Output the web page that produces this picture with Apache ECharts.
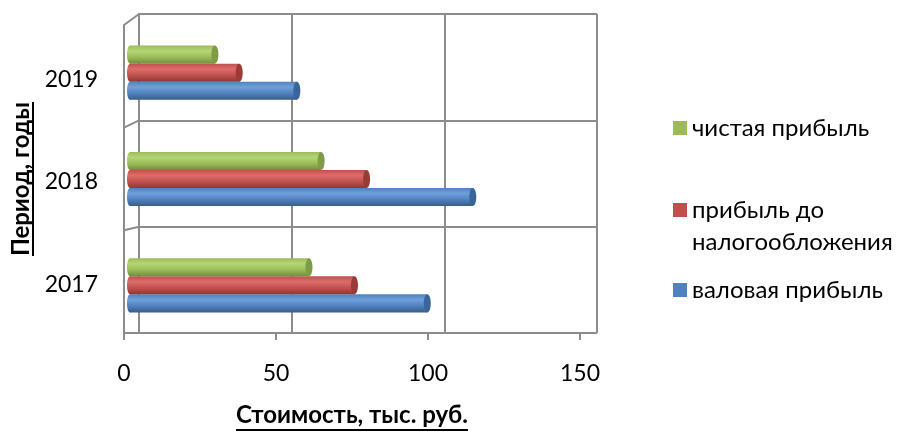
<!DOCTYPE html>
<html>
<head>
<meta charset="utf-8">
<script src="https://cdn.jsdelivr.net/npm/echarts@6/dist/echarts.min.js"></script>
<style>
html,body{margin:0;padding:0;background:#fff;}
#chart{width:898px;height:432px;}
</style>
</head>
<body>
<div id="chart"></div>
<script>
// ---- data ----
const categories = ['2017', '2018', '2019'];
const grossProfit = [98, 113, 55];      // валовая прибыль
const preTaxProfit = [74, 78, 36];      // прибыль до налогообложения
const netProfit = [59, 63, 28];         // чистая прибыль
const xTicks = [0, 50, 100, 150];
const seriesNames = ['валовая прибыль', 'прибыль до налогообложения', 'чистая прибыль'];
const xTitle = 'Стоимость, тыс. руб.';
const yTitle = 'Период, годы';

// ---- styles ----
const FONT = 'Lato';
const GRID_COLOR = '#8c8c8c';
const palettes = [
  {base: '#4f81bd', light: '#6fa0dc', dark: '#385d8a', cap: '#3a659c'},
  {base: '#c0504d', light: '#dd6d69', dark: '#8c3836', cap: '#9a3b38'},
  {base: '#9bbb59', light: '#b5d675', dark: '#728c3e', cap: '#7e9b45'}
];
const seriesData = [grossProfit, preTaxProfit, netProfit];

function grad(p) {
  return {
    type: 'linear', x: 0, y: 0, x2: 0, y2: 1,
    colorStops: [
      {offset: 0, color: p.base},
      {offset: 0.3, color: p.light},
      {offset: 0.65, color: p.base},
      {offset: 1, color: p.dark}
    ]
  };
}

const chart = echarts.init(document.getElementById('chart'), null, {renderer: 'canvas'});

function renderCylinder(params, api) {
  const val = api.value(0);
  const cat = api.value(1);
  const p0 = api.coord([0, cat]);
  const p1 = api.coord([val, cat]);
  const band = api.size([0, 1])[1];
  const h = band * 0.17;
  const idx = params.seriesIndex;
  const cy = p0[1] + (1 - idx) * h;
  const p = palettes[idx];
  const g = grad(p);
  return {
    type: 'group',
    children: [
      {type: 'ellipse', shape: {cx: p0[0], cy: cy, rx: 3, ry: h / 2}, style: {fill: g}},
      {type: 'rect', shape: {x: p0[0], y: cy - h / 2, width: Math.max(0, p1[0] - p0[0]), height: h}, style: {fill: g}},
      {type: 'ellipse', shape: {cx: p1[0], cy: cy, rx: 3.5, ry: h / 2}, style: {fill: p.cap}}
    ]
  };
}

const series = seriesNames.map((name, i) => ({
  name: name,
  type: 'custom',
  xAxisIndex: 2,
  yAxisIndex: 2,
  itemStyle: {color: palettes[i].base},
  renderItem: renderCylinder,
  encode: {x: 0, y: 1},
  data: seriesData[i].map((v, c) => [v, c])
}));

const lineStyle = {color: GRID_COLOR, width: 2};
const labelStyle = {fontFamily: FONT, fontSize: 23, color: '#000'};
const titleStyle = {fontFamily: FONT, fontSize: 24, fontWeight: 'bold', color: '#000'};

function legendAt(name, top, extra) {
  return Object.assign({
    data: [name],
    orient: 'vertical',
    left: 673,
    top: top,
    padding: 0,
    icon: 'rect',
    itemWidth: 14,
    itemHeight: 14,
    selectedMode: false,
    textStyle: {fontFamily: FONT, fontSize: 24, color: '#000', lineHeight: 32}
  }, extra || {});
}

chart.setOption({
  animation: false,
  grid: [
    {left: 139, right: 301, top: 14, bottom: 99},     // back wall
    {left: 124, right: 318, top: 25, bottom: 88},     // front plane (axes)
    {left: 130, right: 313, top: 19.5, bottom: 93.5}  // bar plane
  ],
  xAxis: [
    {gridIndex: 0, type: 'value', min: 0, max: 150, interval: 50,
     axisLine: {show: false}, axisTick: {show: false}, axisLabel: {show: false},
     splitLine: {show: true, lineStyle: lineStyle}},
    {gridIndex: 1, type: 'value', min: 0, max: 150, interval: 50,
     axisLine: {show: true, lineStyle: lineStyle},
     axisTick: {show: true, length: 7, lineStyle: lineStyle},
     axisLabel: Object.assign({margin: 29, customValues: xTicks}, labelStyle),
     splitLine: {show: false},
     name: xTitle, nameLocation: 'middle', nameGap: 70,
     nameTextStyle: titleStyle},
    {gridIndex: 2, type: 'value', min: 0, max: 150, show: false}
  ],
  yAxis: [
    {gridIndex: 0, type: 'category', data: categories,
     axisLine: {show: true, lineStyle: lineStyle}, axisTick: {show: false}, axisLabel: {show: false},
     splitLine: {show: true, lineStyle: lineStyle}},
    {gridIndex: 1, type: 'category', data: categories,
     axisLine: {show: true, lineStyle: lineStyle}, axisTick: {show: false},
     axisLabel: Object.assign({margin: 26, formatter: '{v|{value}}',
       rich: {v: {fontFamily: FONT, fontSize: 23, color: '#000', padding: [6, 0, 0, 0]}}}, labelStyle),
     splitLine: {show: false},
     name: yTitle, nameLocation: 'middle', nameGap: 89, nameRotate: 90,
     nameTextStyle: titleStyle},
    {gridIndex: 2, type: 'category', data: categories, show: false}
  ],
  legend: [
    legendAt(seriesNames[2], 112),
    legendAt(seriesNames[1], 162, {
      formatter: () => '\u00a0\nприбыль до\nналогообложения'
    }),
    legendAt(seriesNames[0], 274)
  ],
  series: series
});

// ---- 3D frame decorations (depth edges) and title underlines ----
function px(axis, v) {
  const finder = axis.startsWith('x') ? {xAxisIndex: +axis.slice(1)} : {yAxisIndex: +axis.slice(1)};
  return chart.convertToPixel(finder, v);
}
const backY = categories.map(c => px('y0', c));
const frontY = categories.map(c => px('y1', c));
const backBand = Math.abs(backY[0] - backY[1]);
const frontBand = Math.abs(frontY[0] - frontY[1]);
const backLeft = px('x0', 0), frontLeft = px('x1', 0);
const els = [];
for (let k = 0; k <= categories.length; k++) {
  const by = backY[0] + backBand / 2 - k * backBand;
  const fy = frontY[0] + frontBand / 2 - k * frontBand;
  els.push({type: 'line', shape: {x1: backLeft, y1: by, x2: frontLeft, y2: fy}, style: {stroke: GRID_COLOR, lineWidth: 2}});
}
const backBottom = backY[0] + backBand / 2;
const frontBottom = frontY[0] + frontBand / 2;
xTicks.forEach(t => {
  els.push({type: 'line', shape: {x1: px('x0', t), y1: backBottom, x2: px('x1', t), y2: frontBottom}, style: {stroke: GRID_COLOR, lineWidth: 2}});
});
const ctx = document.createElement('canvas').getContext('2d');
ctx.font = 'bold 24px ' + FONT;
const wx = ctx.measureText(xTitle).width;
const wy = ctx.measureText(yTitle).width;
const xc = (px('x1', 0) + px('x1', 150)) / 2;
const yc = (frontY[0] + frontY[2]) / 2;
els.push({type: 'rect', shape: {x: xc - wx / 2, y: 429, width: wx, height: 2}, style: {fill: '#000'}});
els.push({type: 'rect', shape: {x: 32, y: yc - wy / 2, width: 2, height: wy}, style: {fill: '#000'}});
chart.setOption({graphic: els});
</script>
</body>
</html>
